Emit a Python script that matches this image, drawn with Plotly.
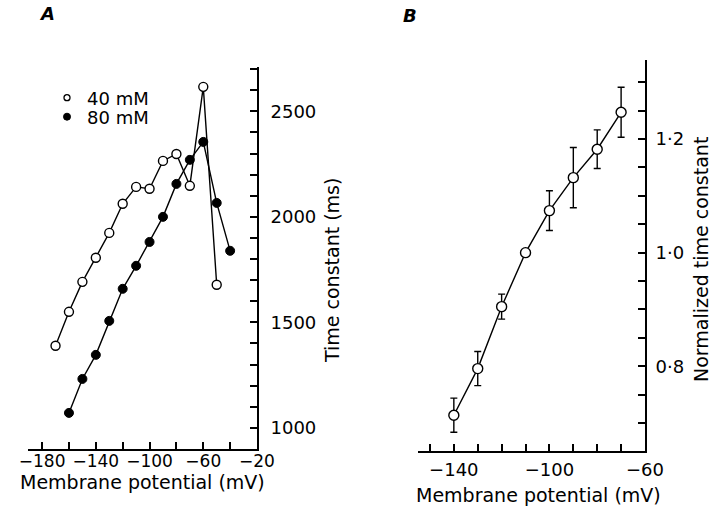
import plotly.graph_objects as go

# ---------------- data ----------------
# Panel A: membrane potential (mV) vs time constant (ms)
v40 = [-170, -160, -150, -140, -130, -120, -110, -100, -90, -80, -70, -60, -50]
tau40 = [1389, 1550, 1692, 1806, 1924, 2062, 2142, 2133, 2265, 2298, 2147, 2616, 1678]

v80 = [-160, -150, -140, -130, -120, -110, -100, -90, -80, -70, -60, -50, -40]
tau80 = [1071, 1232, 1346, 1507, 1659, 1768, 1881, 2000, 2156, 2270, 2355, 2066, 1839]

# Panel B: normalized time constant with error bars
vB = [-140, -130, -120, -110, -100, -90, -80, -70]
normB = [0.714, 0.796, 0.905, 1.000, 1.074, 1.132, 1.182, 1.247]
errB = [0.030, 0.030, 0.022, 0.0, 0.035, 0.053, 0.034, 0.044]

# tick values / labels
xA_ticks = [-180, -160, -140, -120, -100, -80, -60, -40, -20]
xA_text = ["\u2212180", "", "\u2212140", "", "\u2212100", "", "\u221260", "", "\u221220"]
yA_ticks = [1000, 1100, 1200, 1300, 1400, 1500, 1600, 1700, 1800, 1900,
            2000, 2100, 2200, 2300, 2400, 2500, 2600, 2700]
yA_text = ["1000", "", "", "", "", "1500", "", "", "", "",
           "2000", "", "", "", "", "2500", "", ""]
xB_ticks = [-150, -140, -130, -120, -110, -100, -90, -80, -70, -60]
xB_text = ["", "\u2212140", "", "", "", "\u2212100", "", "", "", "\u221260"]
yB_ticks = [0.70, 0.75, 0.80, 0.85, 0.90, 0.95, 1.00, 1.05, 1.10, 1.15, 1.20, 1.25, 1.30]
yB_text = ["", "", "0\u00b78", "", "", "", "1\u00b70", "", "", "", "1\u00b72", "", ""]

W, H = 711, 509
FONT = "DejaVu Sans"


def px(x):
    return x / W


def py(y):
    return 1 - y / H


fig = go.Figure()

LW = 1.4
fig.add_trace(go.Scatter(
    x=v40, y=tau40, mode="lines+markers", xaxis="x", yaxis="y",
    line=dict(color="black", width=LW),
    marker=dict(symbol="circle", size=9, color="white", line=dict(color="black", width=1.4)),
    showlegend=False))
fig.add_trace(go.Scatter(
    x=v80, y=tau80, mode="lines+markers", xaxis="x", yaxis="y",
    line=dict(color="black", width=LW),
    marker=dict(symbol="circle", size=9, color="black", line=dict(color="black", width=1)),
    showlegend=False))

# legend entries (markers only)
fig.add_trace(go.Scatter(
    x=[None], y=[None], mode="markers", name="40 mM", xaxis="x", yaxis="y",
    marker=dict(symbol="circle", size=6, color="white", line=dict(color="black", width=1.3)),
    legend="legend"))
fig.add_trace(go.Scatter(
    x=[None], y=[None], mode="markers", name="80 mM", xaxis="x", yaxis="y",
    marker=dict(symbol="circle", size=7, color="black", line=dict(color="black", width=1)),
    legend="legend2"))

fig.add_trace(go.Scatter(
    x=vB, y=normB, mode="lines+markers", xaxis="x2", yaxis="y2",
    line=dict(color="black", width=LW),
    marker=dict(symbol="circle", size=10, color="white", line=dict(color="black", width=1.4)),
    error_y=dict(type="data", array=errB, visible=True, color="black", thickness=1.4, width=3.5),
    showlegend=False))

axis_common = dict(
    showline=True, linecolor="black", linewidth=1.8, showgrid=False, zeroline=False,
    ticks="inside", ticklen=7, tickwidth=1.5, tickcolor="black", automargin=False,
    mirror=False,
)
tick_font = dict(family=FONT, size=18, color="black")

fig.update_layout(
    width=W, height=H, autosize=False,
    margin=dict(l=0, r=0, t=0, b=0, pad=0),
    paper_bgcolor="white", plot_bgcolor="white",
    xaxis=dict(domain=[px(28), px(257)], range=[-190.5, -20], anchor="y",
               tickmode="array", tickvals=xA_ticks, ticktext=xA_text,
               tickfont=dict(family=FONT, size=17, color="black"),
               ticklabelstandoff=-4, **axis_common),
    yaxis=dict(domain=[py(449), py(67)], range=[900, 2710], anchor="x", side="right",
               tickmode="array", tickvals=yA_ticks, ticktext=yA_text,
               tickfont=tick_font, ticklabelstandoff=8, **axis_common),
    xaxis2=dict(domain=[px(418), px(645)], range=[-155, -60], anchor="y2",
                tickmode="array", tickvals=xB_ticks, ticktext=xB_text,
                tickfont=tick_font, ticklabelstandoff=1, **axis_common),
    yaxis2=dict(domain=[py(451), py(60)], range=[0.651, 1.339], anchor="x2", side="right",
                tickmode="array", tickvals=yB_ticks, ticktext=yB_text,
                tickfont=tick_font, ticklabelstandoff=5, **axis_common),
    legend=dict(x=px(47), y=py(98), xanchor="left", yanchor="middle",
                bgcolor="rgba(0,0,0,0)", borderwidth=0,
                font=dict(family=FONT, size=18, color="black")),
    legend2=dict(x=px(47), y=py(117), xanchor="left", yanchor="middle",
                 bgcolor="rgba(0,0,0,0)", borderwidth=0,
                 font=dict(family=FONT, size=18, color="black")),
)

ann_font = dict(family=FONT, size=19, color="black")
annotations = [
    dict(text="<b><i>A</i></b>", x=px(46.5), y=py(14), xref="paper", yref="paper",
         showarrow=False, xanchor="center", yanchor="middle",
         font=dict(family=FONT, size=18, color="black")),
    dict(text="<b><i>B</i></b>", x=px(410), y=py(16), xref="paper", yref="paper",
         showarrow=False, xanchor="center", yanchor="middle",
         font=dict(family=FONT, size=18, color="black")),
    dict(text="Membrane potential (mV)", x=px(142), y=py(482), xref="paper", yref="paper",
         showarrow=False, xanchor="center", yanchor="middle", font=ann_font),
    dict(text="Membrane potential (mV)", x=px(538), y=py(495), xref="paper", yref="paper",
         showarrow=False, xanchor="center", yanchor="middle", font=ann_font),
    dict(text="Time constant (ms)", x=px(332), y=py(271), xref="paper", yref="paper",
         showarrow=False, xanchor="center", yanchor="middle", textangle=-90, font=ann_font),
    dict(text="Normalized time constant", x=px(701), y=py(260), xref="paper", yref="paper",
         showarrow=False, xanchor="center", yanchor="middle", textangle=-90, font=ann_font),
]
fig.update_layout(annotations=annotations)

fig.write_html("out.html", config={"displayModeBar": False},
               post_script="document.body.style.margin='0px';document.body.style.padding='0px';")
